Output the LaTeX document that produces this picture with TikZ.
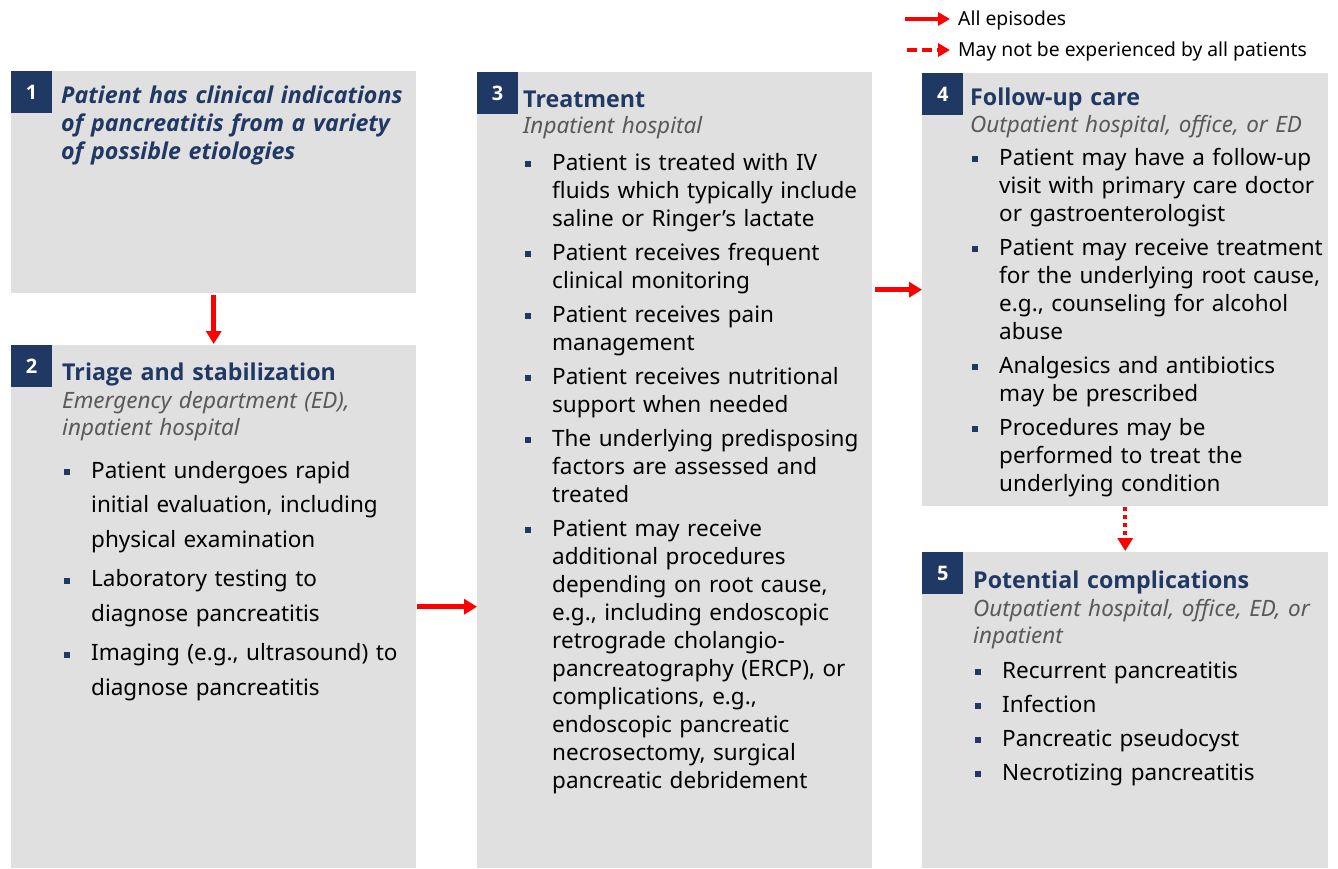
\documentclass[tikz,border=0pt]{standalone}
\usepackage{fontspec}
\setmainfont{Noto Sans}
\newfontfamily\headfont{Open Sans}
\usetikzlibrary{arrows.meta}
\definecolor{navy}{HTML}{1F3864}
\definecolor{boxgray}{HTML}{E0E0E0}
\definecolor{subgray}{HTML}{595959}
\definecolor{flowred}{HTML}{FF0000}
\newcommand{\bgap}{6pt}
\newcommand{\bitem}[1]{\leftskip=27pt\relax\noindent\llap{\textcolor{navy}{\rule[3pt]{6pt}{6pt}}\hspace{21pt}}#1\par\vspace{\bgap}}
\tikzset{stagebox/.style={fill=boxgray,draw=none,anchor=north west,inner sep=0pt}}
\tikzset{badge/.style={fill=navy,text=white,font=\headfont\fontsize{20}{24}\selectfont\bfseries,minimum width=41pt,minimum height=42pt,anchor=north west,inner sep=0pt}}
\tikzset{stitle/.style={text=navy,font=\headfont\fontsize{23.2}{28}\selectfont\bfseries,anchor=base west,inner sep=0pt,text width=390pt,align=left}}
\tikzset{ssub/.style={text=subgray,font=\fontsize{22.5}{27.5}\selectfont\itshape,anchor=base west,inner sep=0pt,text width=390pt,align=left}}
\tikzset{sbody/.style={text width=400pt,anchor=base west,inner sep=0pt,font=\fontsize{22.5}{28}\selectfont}}
\tikzset{legtext/.style={font=\fontsize{19.3}{22}\selectfont,anchor=base west,inner sep=0pt}}
\tikzset{flow/.style={draw=flowred,line width=4.5pt,-{Triangle[length=13pt,width=15pt]}}}
\tikzset{maybeflow/.style={flow,dash pattern=on 4pt off 4pt}}
\tikzset{legflow/.style={draw=flowred,line width=4pt,-{Triangle[length=12pt,width=13pt]}}}

\begin{document}
\begin{tikzpicture}[x=1pt,y=-1pt]
\fill[white] (0,0) rectangle (1338,868);
\useasboundingbox (0,0) rectangle (1338,868);

% stages
\node[stagebox,minimum width=405pt,minimum height=222pt] (s1) at (11,71) {};
\node[stagebox,minimum width=405pt,minimum height=523pt] (s2) at (11,345) {};
\node[stagebox,minimum width=395pt,minimum height=796pt] (s3) at (477,72) {};
\node[stagebox,minimum width=406pt,minimum height=433pt] (s4) at (922,73) {};
\node[stagebox,minimum width=406pt,minimum height=316pt] (s5) at (922,552) {};

\node[badge] (n1) at (s1.north west) {1};
\node[badge] (n2) at (s2.north west) {2};
\node[badge] (n3) at (s3.north west) {3};
\node[badge] (n4) at (s4.north west) {4};
\node[badge] (n5) at (s5.north west) {5};

\node[stitle,font=\headfont\fontsize{23.2}{28}\selectfont\bfseries\itshape] (t1) at (61,103)
  {Patient has clinical indications\\of pancreatitis from a variety\\of possible etiologies};

\node[stitle] (t2) at (62,380) {Triage and stabilization};
\node[ssub] (u2) at (62,408) {Emergency department (ED),\\inpatient hospital};
\node[sbody,font=\fontsize{22.5}{34.5}\selectfont\renewcommand{\bgap}{5pt}] (l2) at (64,478) {%
  \bitem{Patient undergoes rapid\\initial evaluation, including\\physical examination}
  \bitem{Laboratory testing to\\diagnose pancreatitis}
  \bitem{Imaging (e.g., ultrasound) to\\diagnose pancreatitis}};

\node[stitle] (t3) at (523,107) {Treatment};
\node[ssub] (u3) at (523,133) {Inpatient hospital};
\node[sbody] (l3) at (525,170) {%
  \bitem{Patient is treated with IV\\fluids which typically include\\saline or Ringer’s lactate}
  \bitem{Patient receives frequent\\clinical monitoring}
  \bitem{Patient receives pain\\management}
  \bitem{Patient receives nutritional\\support when needed}
  \bitem{The underlying predisposing\\factors are assessed and\\treated}
  \bitem{Patient may receive\\additional procedures\\depending on root cause,\\e.g., including endoscopic\\retrograde cholangio-\\pancreatography (ERCP), or\\complications, e.g.,\\endoscopic pancreatic\\necrosectomy, surgical\\pancreatic debridement}};

\node[stitle] (t4) at (970,105) {Follow-up care};
\node[ssub] (u4) at (970,132) {Outpatient hospital, office, or ED};
\node[sbody] (l4) at (972,165) {%
  \bitem{Patient may have a follow-up\\visit with primary care doctor\\or gastroenterologist}
  \bitem{Patient may receive treatment\\for the underlying root cause,\\e.g., counseling for alcohol\\abuse}
  \bitem{Analgesics and antibiotics\\may be prescribed}
  \bitem{Procedures may be\\performed to treat the\\underlying condition}};

\node[stitle] (t5) at (973,588) {Potential complications};
\node[ssub] (u5) at (973,616) {Outpatient hospital, office, ED, or\\inpatient};
\node[sbody] (l5) at (975,678) {%
  \bitem{Recurrent pancreatitis}
  \bitem{Infection}
  \bitem{Pancreatic pseudocyst}
  \bitem{Necrotizing pancreatitis}};

% flow between stages
\draw[flow,shorten <=2pt,shorten >=1pt] (s1.south) -- (s2.north);
\draw[flow,shorten <=1pt] (s2.east) -- (s2.east -| s3.west);
\draw[flow,shorten <=3pt] (s4.west -| s3.east) -- (s4.west);
\draw[maybeflow,shorten <=1pt,shorten >=1pt] (s4.south) -- (s5.north);

% legend
\node[legtext] (lt1) at (958,25) {All episodes};
\node[legtext] (lt2) at (958,56) {May not be experienced by all patients};
\coordinate (la1) at (905,19);
\coordinate (la2) at (907,50);
\draw[legflow,shorten >=8pt] (la1) -- (la1 -| lt1.west);
\draw[legflow,dash pattern=on 10pt off 5pt,shorten >=8pt] (la2) -- (la2 -| lt2.west);

\end{tikzpicture}
\end{document}
